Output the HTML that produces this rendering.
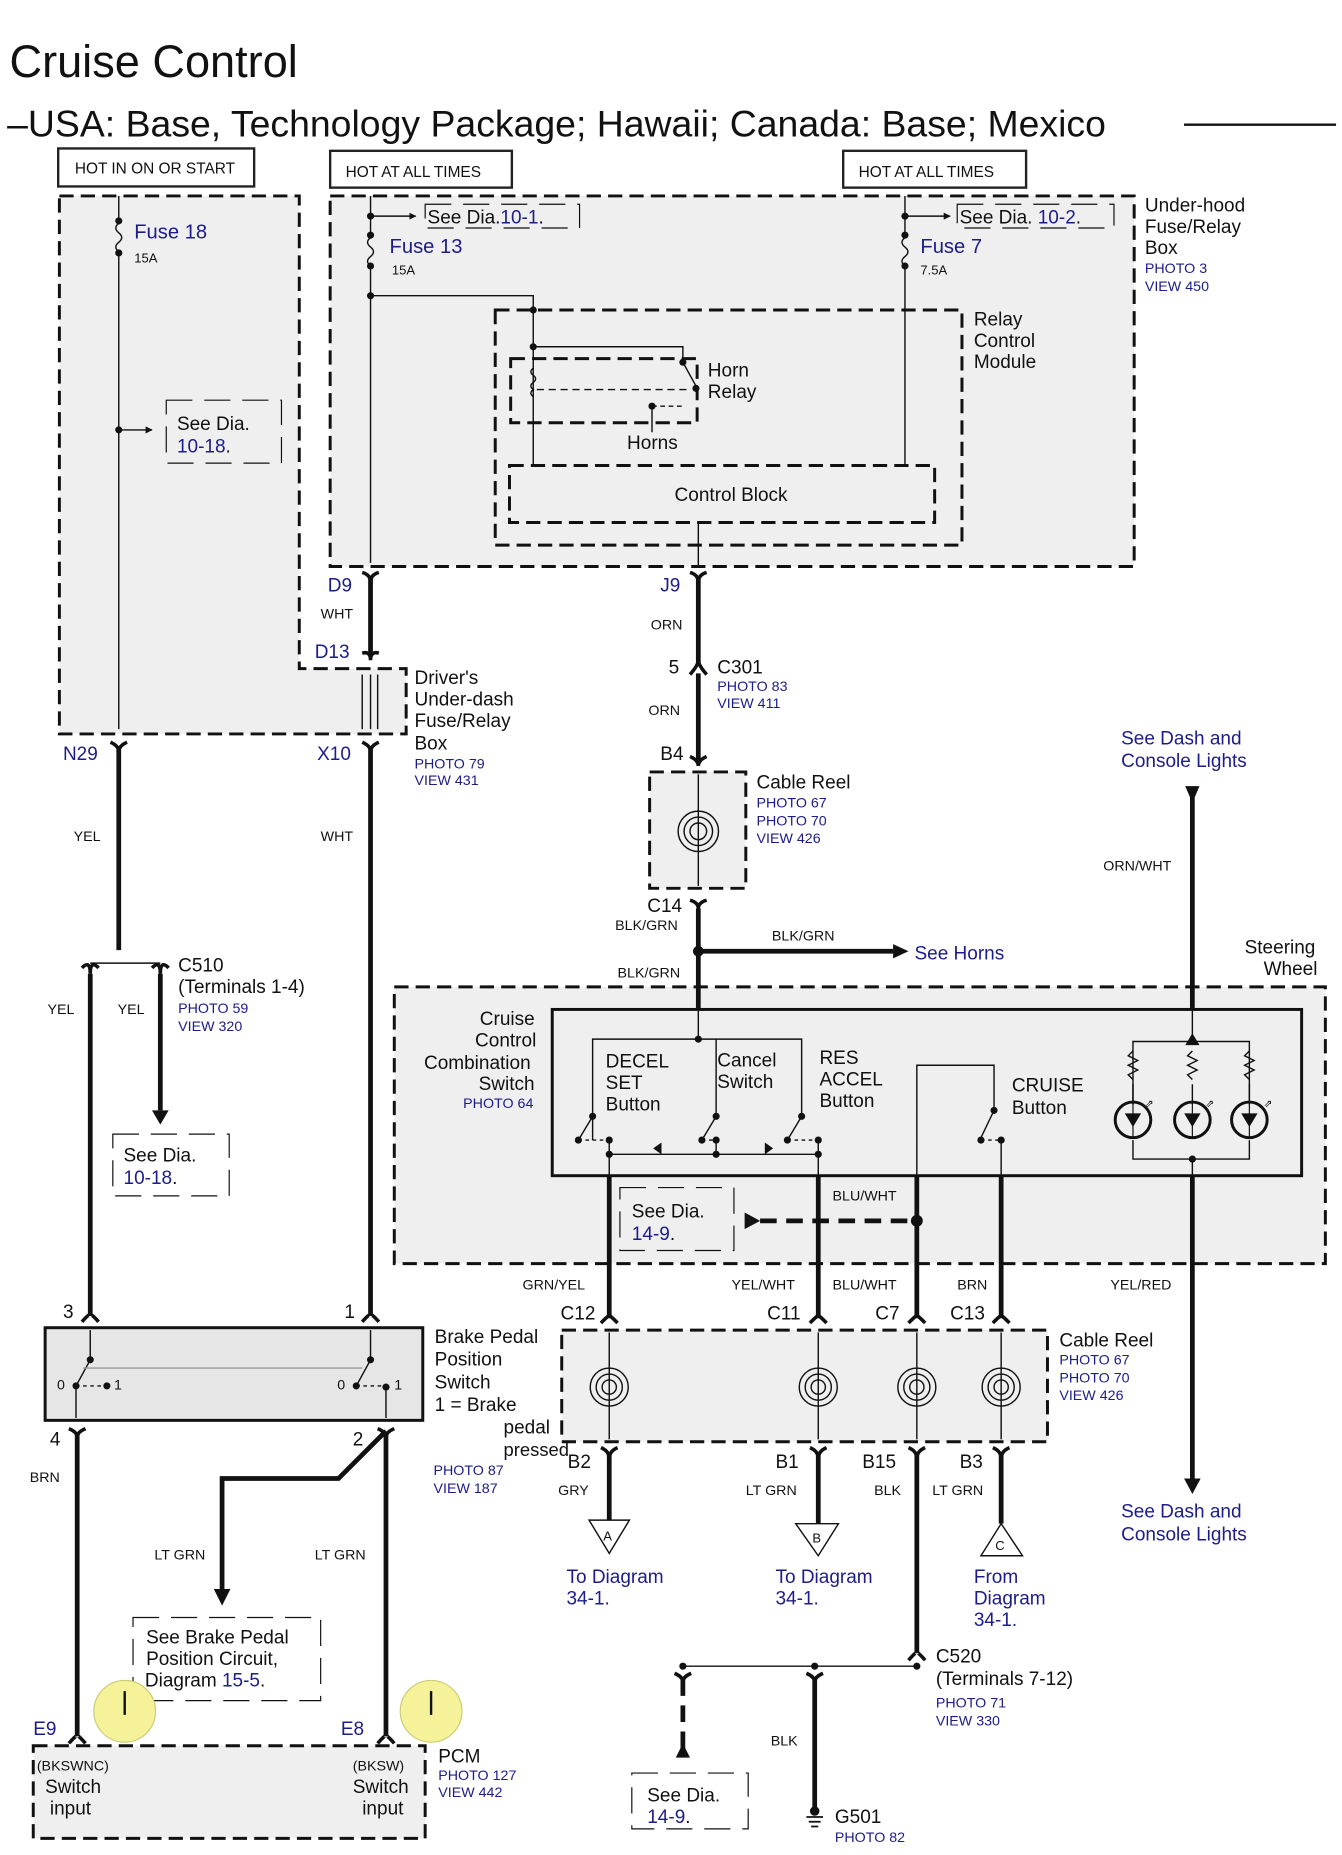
<!DOCTYPE html>
<html><head><meta charset="utf-8"><style>
html,body{margin:0;padding:0;background:#fff}
svg{display:block}
text{font-family:"Liberation Sans",sans-serif;fill:#111}
.b{fill:#1c1c8a}
</style></head><body>
<svg width="1342" height="1855" viewBox="0 0 1130 1562" preserveAspectRatio="none" xmlns="http://www.w3.org/2000/svg">
<defs>
<marker id="ah" viewBox="0 0 10 10" refX="9" refY="5" markerWidth="5" markerHeight="5" orient="auto"><path d="M0,0L10,5L0,10z" fill="#111"/></marker>
</defs>
<text x="8" y="65" font-size="38">Cruise Control</text>
<text x="6" y="115" font-size="31.5">–USA: Base, Technology Package; Hawaii; Canada: Base; Mexico</text>
<line x1="997" y1="105" x2="1125" y2="105" stroke="#111" stroke-width="2"/>

<g fill="#fff" stroke="#222" stroke-width="2">
<rect x="49" y="125" width="165" height="32"/>
<rect x="278" y="127" width="153" height="31"/>
<rect x="710" y="127" width="154" height="31"/>
</g>
<text x="63" y="146" font-size="13">HOT IN ON OR START</text>
<text x="291" y="149" font-size="13">HOT AT ALL TIMES</text>
<text x="723" y="149" font-size="13">HOT AT ALL TIMES</text>

<g stroke="#111" stroke-width="2.5" stroke-dasharray="12,6" fill="#efefef">
<path d="M50,165H252V563H342V618H50Z"/>
<rect x="278" y="165" width="677" height="312"/>
<rect x="417" y="261" width="393" height="198"/>
<rect x="430" y="302" width="157" height="54"/>
<rect x="429" y="392" width="358" height="48"/>
<rect x="332" y="831" width="784" height="233"/>
<rect x="547" y="650" width="81" height="98"/>
<rect x="473" y="1120" width="409" height="94"/>
<rect x="28" y="1470" width="330" height="78"/>
</g>
<rect x="465" y="850" width="631" height="140" fill="#efefef" stroke="#111" stroke-width="2.5"/>
<rect x="38" y="1118" width="318" height="78" fill="#e6e6e6" stroke="#111" stroke-width="2.5"/>

<g stroke="#111" stroke-width="1" stroke-dasharray="22,10" fill="#fff">
<rect x="140" y="337" width="97" height="53" fill="#efefef"/>
<rect x="95" y="955" width="98" height="52"/>
<rect x="522" y="1000" width="96" height="53" fill="#efefef"/>
<rect x="112" y="1362" width="158" height="70"/>
<rect x="532" y="1493" width="98" height="47"/>
<rect x="358" y="172" width="130" height="20" fill="#efefef"/>
<rect x="806" y="172" width="132" height="20" fill="#efefef"/>
</g>

<g stroke="#111" stroke-width="1.2" fill="none">
<line x1="100" y1="165" x2="100" y2="185"/>
<path d="M100,188 q-5,4 0,8 q5,4 0,8 q-5,4 0,8"/>
<line x1="100" y1="212" x2="100" y2="614"/>
<line x1="100" y1="362" x2="128" y2="362" marker-end="url(#ah)"/>
<line x1="312" y1="165" x2="312" y2="198"/>
<path d="M312,200 q-5,4 0,8 q5,4 0,8 q-5,4 0,8"/>
<line x1="312" y1="224" x2="312" y2="474"/>
<line x1="312" y1="182" x2="350" y2="182" marker-end="url(#ah)"/>
<path d="M312,249H449V392"/>
<line x1="762" y1="165" x2="762" y2="198"/>
<path d="M762,200 q-5,4 0,8 q5,4 0,8 q-5,4 0,8"/>
<line x1="762" y1="224" x2="762" y2="392"/>
<line x1="762" y1="182" x2="800" y2="182" marker-end="url(#ah)"/>
<path d="M449,292H575V305L586,325"/>
<path d="M449,310 q-4,3 0,6 q4,3 0,6 q-4,3 0,6 q-4,3 0,6"/>
<line x1="452" y1="328" x2="580" y2="328" stroke-dasharray="6,4"/>
<path d="M549,364V342"/><path d="M549,342L575,342" stroke-dasharray="4,3"/>
<line x1="588" y1="440" x2="588" y2="477"/>
<line x1="305" y1="568" x2="305" y2="614"/><line x1="318" y1="568" x2="318" y2="614"/>
<line x1="312" y1="568" x2="312" y2="614"/>
<line x1="588" y1="652" x2="588" y2="746"/>
<circle cx="588" cy="700" r="17"/><circle cx="588" cy="700" r="12"/><circle cx="588" cy="700" r="7"/>
<line x1="76" y1="811" x2="135" y2="811"/>
<path d="M499,960V875H675V940"/>
<line x1="588" y1="850" x2="588" y2="875"/>
<line x1="603" y1="875" x2="603" y2="940"/>
<line x1="499" y1="940" x2="487" y2="960"/><line x1="603" y1="940" x2="591" y2="960"/><line x1="675" y1="940" x2="663" y2="960"/>
<path d="M487,960H513M591,960H603M663,960H689" stroke-dasharray="3,3"/>
<path d="M513,960V990M603,960V972M689,960V990"/>
<line x1="513" y1="972" x2="689" y2="972"/>
<path d="M772,990V897H837V935L826,958"/>
<path d="M826,960H843" stroke-dasharray="3,3"/>
<line x1="843" y1="960" x2="843" y2="990"/>
<path d="M954,930V877H1052V930M954,960V976H1052V960M1004,877V850M1004,976V990"/>
<path d="M954,885 l-4,4 l8,4 l-8,4 l8,4 l-8,4 l4,4M1004,885 l-4,4 l8,4 l-8,4 l8,4 l-8,4 l4,4M1052,885 l-4,4 l8,4 l-8,4 l8,4 l-8,4 l4,4"/>
<line x1="954" y1="913" x2="954" y2="930"/><line x1="1004" y1="913" x2="1004" y2="930"/><line x1="1052" y1="913" x2="1052" y2="930"/>
<line x1="513" y1="1122" x2="513" y2="1212"/><line x1="689" y1="1122" x2="689" y2="1212"/><line x1="772" y1="1122" x2="772" y2="1212"/><line x1="843" y1="1122" x2="843" y2="1212"/>
<g>
<circle cx="513" cy="1168" r="16"/><circle cx="513" cy="1168" r="11"/><circle cx="513" cy="1168" r="6"/>
<circle cx="689" cy="1168" r="16"/><circle cx="689" cy="1168" r="11"/><circle cx="689" cy="1168" r="6"/>
<circle cx="772" cy="1168" r="16"/><circle cx="772" cy="1168" r="11"/><circle cx="772" cy="1168" r="6"/>
<circle cx="843" cy="1168" r="16"/><circle cx="843" cy="1168" r="11"/><circle cx="843" cy="1168" r="6"/>
</g>
<path d="M76,1120V1145L64,1167V1194M312,1120V1145L300,1167M325,1170V1194"/>
<line x1="70" y1="1152" x2="305" y2="1152" stroke="#999"/>
<path d="M64,1167H90M300,1167H325" stroke-dasharray="3,3"/>
<line x1="575" y1="1403" x2="772" y2="1403"/>
<path d="M496,1280H530L513,1308Z" fill="#fff"/>
<path d="M670,1283H706L689,1310Z" fill="#fff"/>
<path d="M826,1310H861L843,1283Z" fill="#fff"/>
</g>

<g stroke="#111" stroke-width="4" fill="none">
<line x1="312" y1="487" x2="312" y2="552"/>
<line x1="588" y1="487" x2="588" y2="560"/>
<line x1="588" y1="567" x2="588" y2="642"/>
<line x1="588" y1="765" x2="588" y2="850"/>
<line x1="588" y1="801" x2="752" y2="801"/>
<line x1="100" y1="630" x2="100" y2="800"/>
<line x1="312" y1="630" x2="312" y2="1108"/>
<line x1="76" y1="820" x2="76" y2="1108"/>
<line x1="135" y1="820" x2="135" y2="935"/>
<line x1="65" y1="1207" x2="65" y2="1462"/>
<line x1="325" y1="1207" x2="325" y2="1462"/>
<path d="M325,1205L285,1245H187V1340"/>
<line x1="1004" y1="670" x2="1004" y2="850"/>
<line x1="1004" y1="990" x2="1004" y2="1245"/>
<line x1="513" y1="990" x2="513" y2="1110"/>
<line x1="689" y1="990" x2="689" y2="1110"/>
<line x1="772" y1="990" x2="772" y2="1110"/>
<line x1="843" y1="990" x2="843" y2="1110"/>
<line x1="513" y1="1224" x2="513" y2="1280"/>
<line x1="689" y1="1224" x2="689" y2="1283"/>
<line x1="772" y1="1224" x2="772" y2="1392"/>
<line x1="843" y1="1224" x2="843" y2="1283"/>
<line x1="686" y1="1414" x2="686" y2="1528"/>
<line x1="640" y1="1028" x2="770" y2="1028" stroke-dasharray="14,8"/>
<line x1="575" y1="1414" x2="575" y2="1475" stroke-dasharray="14,8"/>
</g>
<g fill="#111">
<path d="M752,795L765,801L752,807Z"/>
<path d="M998,662H1010L1004,676Z"/>
<path d="M998,880H1010L1004,870Z"/>
<path d="M997,1245H1011L1004,1258Z"/>
<path d="M128,935H142L135,947Z"/>
<path d="M180,1338H194L187,1352Z"/>
<path d="M627,1021V1035L640,1028Z"/>
<path d="M569,1480H581L575,1468Z"/>
<circle cx="772" cy="1028" r="5"/>
<circle cx="588" cy="801" r="4.5"/>
<circle cx="100" cy="186" r="3"/><circle cx="100" cy="213" r="3"/><circle cx="100" cy="362" r="3"/>
<circle cx="312" cy="182" r="3"/><circle cx="312" cy="198" r="3"/><circle cx="312" cy="224" r="3"/><circle cx="312" cy="249" r="3"/>
<circle cx="762" cy="182" r="3"/><circle cx="762" cy="198" r="3"/><circle cx="762" cy="224" r="3"/>
<circle cx="449" cy="261" r="3"/><circle cx="449" cy="292" r="3"/><circle cx="575" cy="305" r="3"/><circle cx="586" cy="327" r="3"/><circle cx="549" cy="342" r="3"/>
<circle cx="588" cy="875" r="3"/>
<circle cx="499" cy="940" r="3"/><circle cx="487" cy="960" r="3"/><circle cx="513" cy="960" r="3"/>
<circle cx="603" cy="940" r="3"/><circle cx="591" cy="960" r="3"/><circle cx="603" cy="960" r="3"/>
<circle cx="675" cy="940" r="3"/><circle cx="663" cy="960" r="3"/><circle cx="689" cy="960" r="3"/>
<circle cx="513" cy="972" r="3"/><circle cx="603" cy="972" r="3"/><circle cx="689" cy="972" r="3"/>
<circle cx="837" cy="935" r="3"/><circle cx="826" cy="960" r="3"/><circle cx="843" cy="960" r="3"/>
<circle cx="1004" cy="877" r="3"/><circle cx="1004" cy="976" r="3"/>
<path d="M550,967L557,962V972Z"/><path d="M651,967L644,962V972Z"/>
<circle cx="76" cy="1145" r="3"/><circle cx="64" cy="1167" r="3"/><circle cx="90" cy="1167" r="3"/>
<circle cx="312" cy="1145" r="3"/><circle cx="300" cy="1167" r="3"/><circle cx="325" cy="1168" r="3"/>
<circle cx="575" cy="1403" r="3"/><circle cx="686" cy="1403" r="3"/><circle cx="772" cy="1403" r="3"/>
<circle cx="686" cy="1525" r="4"/>
</g>
<g stroke="#111" stroke-width="2.5" fill="none">
<circle cx="954" cy="943" r="15"/><circle cx="1004" cy="943" r="15"/><circle cx="1052" cy="943" r="15"/>
</g>
<g fill="#111" stroke="#111"><path d="M948,938H960L954,948Z"/><path d="M998,938H1010L1004,948Z"/><path d="M1046,938H1058L1052,948Z"/>
<line x1="954" y1="928" x2="954" y2="958"/><line x1="1004" y1="928" x2="1004" y2="958"/><line x1="1052" y1="928" x2="1052" y2="958"/></g>
<text x="964" y="932" font-size="9">⇗</text><text x="1015" y="932" font-size="9">⇗</text><text x="1064" y="932" font-size="9">⇗</text>
<g stroke="#111" stroke-width="1.5"><line x1="679" y1="1530" x2="693" y2="1530"/><line x1="681" y1="1534" x2="691" y2="1534"/><line x1="683" y1="1538" x2="689" y2="1538"/></g>

<g stroke="#111" stroke-width="3" fill="none">
<path d="M305,482Q312,484 312,490Q312,484 319,482"/>
<path d="M581,482Q588,484 588,490Q588,484 595,482"/>
<path d="M305,550Q312,548 312,556Q312,548 319,550"/>
<path d="M581,568Q588,560 588,556Q588,560 595,568"/>
<path d="M581,637Q588,640 588,645Q588,640 595,637"/>
<path d="M581,758Q588,760 588,765Q588,760 595,758"/>
<path d="M93,625Q100,628 100,633Q100,628 107,625"/>
<path d="M305,625Q312,628 312,633Q312,628 319,625"/>
<path d="M69,815Q76,808 76,820Q76,808 83,815"/>
<path d="M128,815Q135,808 135,820Q135,808 142,815"/>
<path d="M69,1113Q76,1105 76,1108Q76,1105 83,1113"/>
<path d="M305,1113Q312,1105 312,1108Q312,1105 319,1113"/>
<path d="M58,1203Q65,1206 65,1210Q65,1206 72,1203"/>
<path d="M318,1203Q325,1206 325,1210Q325,1206 332,1203"/>
<path d="M58,1468Q65,1460 65,1462Q65,1460 72,1468"/>
<path d="M318,1468Q325,1460 325,1462Q325,1460 332,1468"/>
<path d="M506,1114Q513,1107 513,1108Q513,1107 520,1114"/>
<path d="M682,1114Q689,1107 689,1108Q689,1107 696,1114"/>
<path d="M765,1114Q772,1107 772,1108Q772,1107 779,1114"/>
<path d="M836,1114Q843,1107 843,1108Q843,1107 850,1114"/>
<path d="M506,1219Q513,1222 513,1228Q513,1222 520,1219"/>
<path d="M682,1219Q689,1222 689,1228Q689,1222 696,1219"/>
<path d="M765,1219Q772,1222 772,1228Q772,1222 779,1219"/>
<path d="M836,1219Q843,1222 843,1228Q843,1222 850,1219"/>
<path d="M765,1398Q772,1390 772,1392Q772,1390 779,1398"/>
<path d="M568,1409Q575,1412 575,1416Q575,1412 582,1409"/>
<path d="M679,1409Q686,1412 686,1416Q686,1412 693,1409"/>
</g>

<circle cx="105" cy="1441" r="26" fill="#f5f29a" stroke="#cccc77"/>
<line x1="105" y1="1424" x2="105" y2="1444" stroke="#111" stroke-width="2"/>
<circle cx="363" cy="1441" r="26" fill="#f5f29a" stroke="#cccc77"/>
<line x1="363" y1="1424" x2="363" y2="1444" stroke="#111" stroke-width="2"/>

<g font-size="16">
<text x="113" y="201" class="b" font-size="17">Fuse 18</text>
<text x="113" y="221" font-size="11">15A</text>
<text x="149" y="362">See Dia.</text><text x="149" y="381" class="b">10-18<tspan fill="#111">.</tspan></text>
<text x="360" y="188">See Dia.<tspan class="b">10-1</tspan>.</text>
<text x="328" y="213" class="b" font-size="17">Fuse 13</text>
<text x="330" y="231" font-size="11">15A</text>
<text x="808" y="188">See Dia. <tspan class="b">10-2</tspan>.</text>
<text x="775" y="213" class="b" font-size="17">Fuse 7</text>
<text x="775" y="231" font-size="11">7.5A</text>
<text x="964" y="178">Under-hood</text><text x="964" y="196">Fuse/Relay</text><text x="964" y="214">Box</text>
<text x="964" y="230" class="b" font-size="12">PHOTO 3</text><text x="964" y="245" class="b" font-size="12">VIEW 450</text>
<text x="820" y="274">Relay</text><text x="820" y="292">Control</text><text x="820" y="310">Module</text>
<text x="596" y="317">Horn</text><text x="596" y="335">Relay</text>
<text x="528" y="378">Horns</text>
<text x="568" y="422">Control Block</text>
<text x="276" y="498" class="b">D9</text><text x="556" y="498" class="b">J9</text>
<text x="270" y="521" font-size="12">WHT</text>
<text x="548" y="530" font-size="12">ORN</text>
<text x="265" y="554" class="b">D13</text>
<text x="563" y="567">5</text>
<text x="604" y="567">C301</text>
<text x="604" y="582" class="b" font-size="12">PHOTO 83</text><text x="604" y="596" class="b" font-size="12">VIEW 411</text>
<text x="546" y="602" font-size="12">ORN</text>
<text x="349" y="576">Driver's</text><text x="349" y="594">Under-dash</text><text x="349" y="612">Fuse/Relay</text><text x="349" y="631">Box</text>
<text x="349" y="647" class="b" font-size="12">PHOTO 79</text><text x="349" y="661" class="b" font-size="12">VIEW 431</text>
<text x="53" y="640" class="b">N29</text><text x="267" y="640" class="b">X10</text>
<text x="556" y="640">B4</text>
<text x="637" y="664">Cable Reel</text>
<text x="637" y="680" class="b" font-size="12">PHOTO 67</text><text x="637" y="695" class="b" font-size="12">PHOTO 70</text><text x="637" y="710" class="b" font-size="12">VIEW 426</text>
<text x="944" y="627" class="b">See Dash and</text><text x="944" y="646" class="b">Console Lights</text>
<text x="929" y="733" font-size="12">ORN/WHT</text>
<text x="62" y="708" font-size="12">YEL</text><text x="270" y="708" font-size="12">WHT</text>
<text x="545" y="768">C14</text>
<text x="518" y="783" font-size="12">BLK/GRN</text>
<text x="650" y="792" font-size="12">BLK/GRN</text>
<text x="770" y="808" class="b">See Horns</text>
<text x="1048" y="803">Steering</text><text x="1064" y="821">Wheel</text>
<text x="520" y="823" font-size="12">BLK/GRN</text>
<text x="150" y="818">C510</text><text x="150" y="836">(Terminals 1-4)</text>
<text x="150" y="853" class="b" font-size="12">PHOTO 59</text><text x="150" y="868" class="b" font-size="12">VIEW 320</text>
<text x="40" y="854" font-size="12">YEL</text><text x="99" y="854" font-size="12">YEL</text>
<text x="404" y="863">Cruise</text><text x="400" y="881">Control</text><text x="357" y="900">Combination</text><text x="403" y="918">Switch</text>
<text x="390" y="933" class="b" font-size="12">PHOTO 64</text>
<text x="510" y="899">DECEL</text><text x="510" y="917">SET</text><text x="510" y="935">Button</text>
<text x="604" y="898">Cancel</text><text x="604" y="916">Switch</text>
<text x="690" y="896">RES</text><text x="690" y="914">ACCEL</text><text x="690" y="932">Button</text>
<text x="852" y="919">CRUISE</text><text x="852" y="938">Button</text>
<text x="104" y="978">See Dia.</text><text x="104" y="997" class="b">10-18<tspan fill="#111">.</tspan></text>
<text x="532" y="1025">See Dia.</text><text x="532" y="1044" class="b">14-9<tspan fill="#111">.</tspan></text>
<text x="701" y="1011" font-size="12">BLU/WHT</text>
<text x="440" y="1086" font-size="12">GRN/YEL</text><text x="616" y="1086" font-size="12">YEL/WHT</text><text x="701" y="1086" font-size="12">BLU/WHT</text><text x="806" y="1086" font-size="12">BRN</text><text x="935" y="1086" font-size="12">YEL/RED</text>
<text x="53" y="1110">3</text><text x="290" y="1110">1</text>
<text x="472" y="1111">C12</text><text x="646" y="1111">C11</text><text x="737" y="1111">C7</text><text x="800" y="1111">C13</text>
<text x="892" y="1134">Cable Reel</text>
<text x="892" y="1149" class="b" font-size="12">PHOTO 67</text><text x="892" y="1164" class="b" font-size="12">PHOTO 70</text><text x="892" y="1179" class="b" font-size="12">VIEW 426</text>
<text x="366" y="1131">Brake Pedal</text><text x="366" y="1150">Position</text><text x="366" y="1169">Switch</text><text x="366" y="1188">1 = Brake</text><text x="424" y="1207">pedal</text><text x="424" y="1226" font-size="15.5">pressed</text>
<text x="365" y="1242" class="b" font-size="12">PHOTO 87</text><text x="365" y="1257" class="b" font-size="12">VIEW 187</text>
<text x="48" y="1170" font-size="12">0</text><text x="96" y="1170" font-size="12">1</text><text x="284" y="1170" font-size="12">0</text><text x="332" y="1170" font-size="12">1</text>
<text x="42" y="1217">4</text><text x="297" y="1217">2</text>
<text x="25" y="1248" font-size="12">BRN</text>
<text x="478" y="1236">B2</text><text x="653" y="1236">B1</text><text x="726" y="1236">B15</text><text x="808" y="1236">B3</text>
<text x="470" y="1259" font-size="12">GRY</text><text x="628" y="1259" font-size="12">LT GRN</text><text x="736" y="1259" font-size="12">BLK</text><text x="785" y="1259" font-size="12">LT GRN</text>
<text x="508" y="1297" font-size="11">A</text><text x="684" y="1299" font-size="11">B</text><text x="838" y="1305" font-size="11">C</text>
<text x="944" y="1278" class="b">See Dash and</text><text x="944" y="1297" class="b">Console Lights</text>
<text x="130" y="1313" font-size="12">LT GRN</text><text x="265" y="1313" font-size="12">LT GRN</text>
<text x="477" y="1333" class="b">To Diagram</text><text x="477" y="1351" class="b">34-1.</text>
<text x="653" y="1333" class="b">To Diagram</text><text x="653" y="1351" class="b">34-1.</text>
<text x="820" y="1333" class="b">From</text><text x="820" y="1351" class="b">Diagram</text><text x="820" y="1369" class="b">34-1.</text>
<text x="123" y="1384">See Brake Pedal</text><text x="123" y="1402">Position Circuit,</text><text x="122" y="1420">Diagram <tspan class="b">15-5</tspan>.</text>
<text x="788" y="1400">C520</text><text x="788" y="1419">(Terminals 7-12)</text>
<text x="788" y="1438" class="b" font-size="12">PHOTO 71</text><text x="788" y="1453" class="b" font-size="12">VIEW 330</text>
<text x="28" y="1461" class="b">E9</text><text x="287" y="1461" class="b">E8</text>
<text x="649" y="1470" font-size="12">BLK</text>
<text x="369" y="1484">PCM</text>
<text x="369" y="1499" class="b" font-size="12">PHOTO 127</text><text x="369" y="1513" class="b" font-size="12">VIEW 442</text>
<text x="31" y="1491" font-size="12">(BKSWNC)</text><text x="38" y="1510">Switch</text><text x="42" y="1528">input</text>
<text x="297" y="1491" font-size="12">(BKSW)</text><text x="297" y="1510">Switch</text><text x="305" y="1528">input</text>
<text x="545" y="1517">See Dia.</text><text x="545" y="1535" class="b">14-9<tspan fill="#111">.</tspan></text>
<text x="703" y="1535">G501</text>
<text x="703" y="1551" class="b" font-size="12">PHOTO 82</text>
</g>
</svg>
</body></html>
